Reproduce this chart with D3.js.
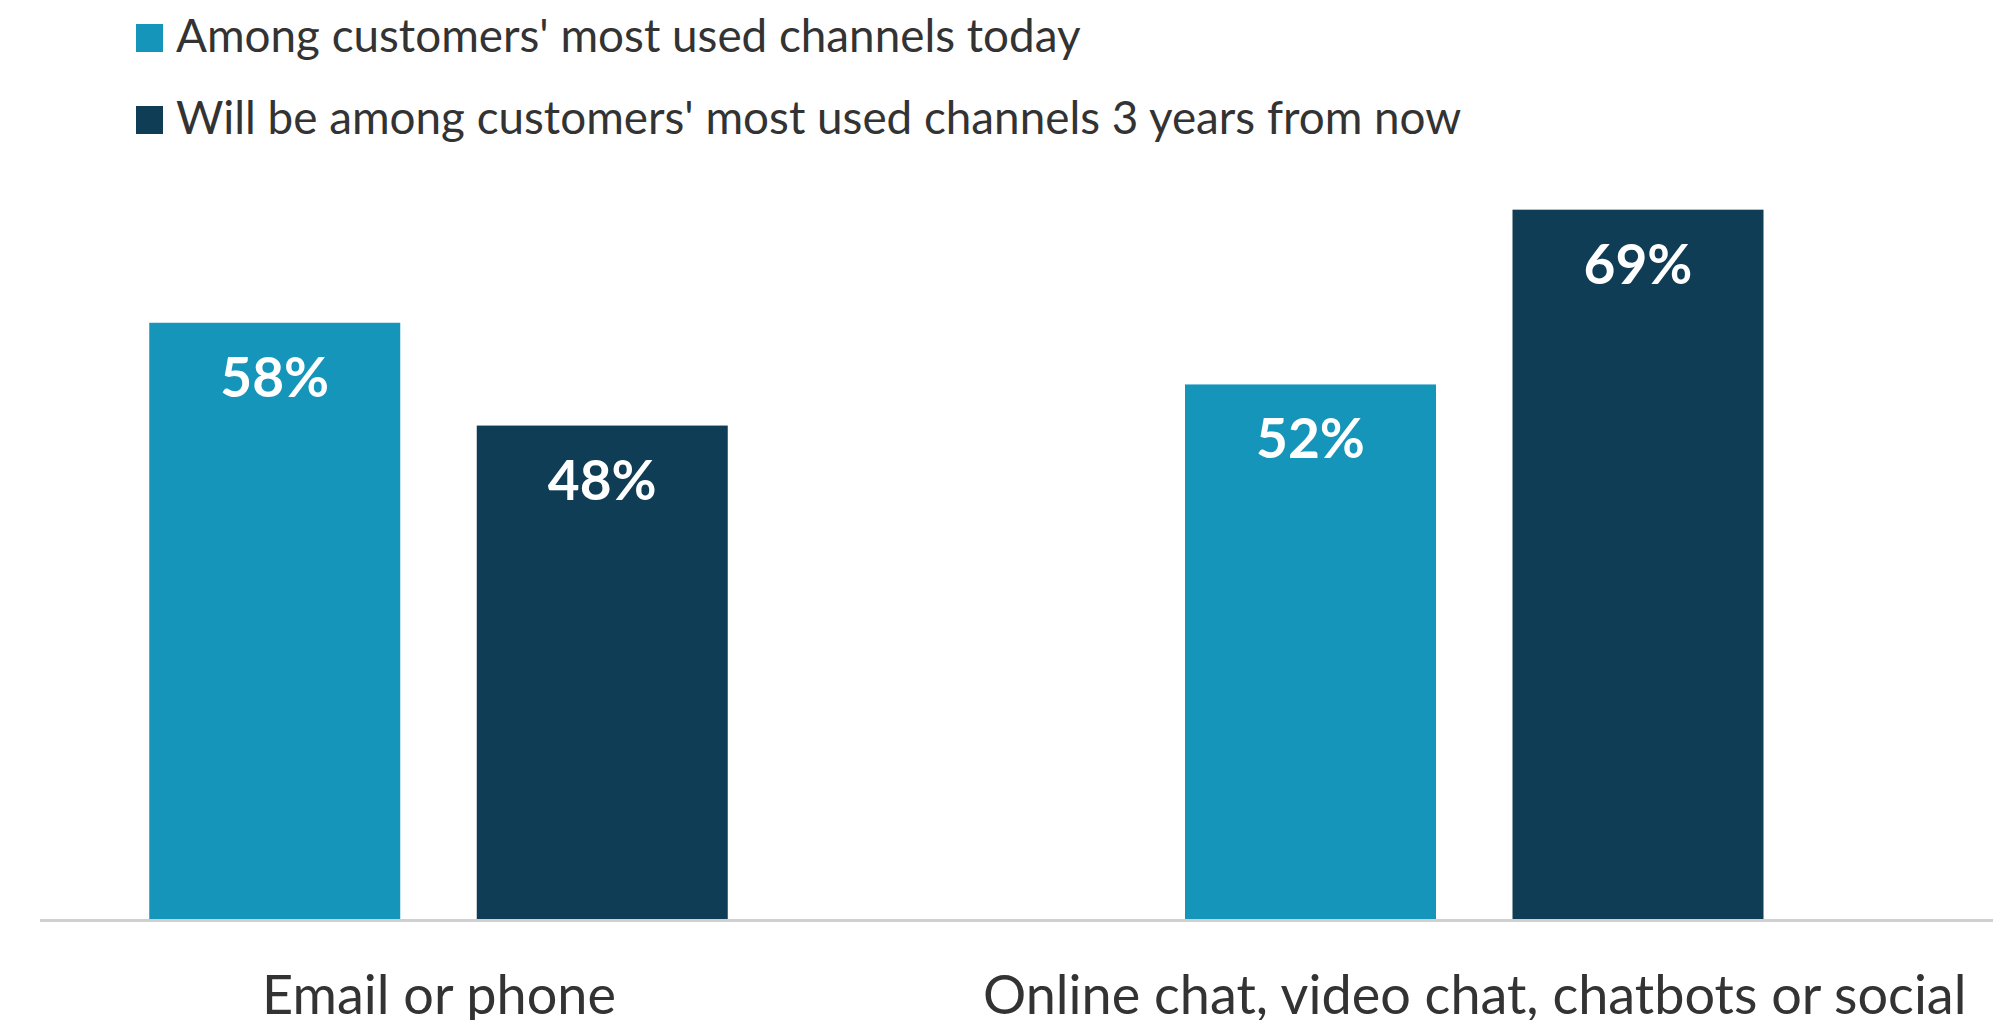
<!DOCTYPE html>
<html>
<head>
<meta charset="utf-8">
<script src="https://cdn.jsdelivr.net/npm/d3@7"></script>
<style>
  html, body { margin: 0; padding: 0; background: #ffffff; }
  svg { display: block; }
</style>
</head>
<body>
<svg id="chart" width="2003" height="1020"></svg>
<script>
// Channel groups along the x axis
const categories = ["Email or phone", "Online chat, video chat, chatbots or social"];
// Series names, shown in the legend
const seriesNames = [
  "Among customers' most used channels today",
  "Will be among customers' most used channels 3 years from now"
];
// Share of respondents (%) per series, in category order
const todayValues = [58, 52];
const futureValues = [48, 69];

const seriesColors = ["#1595ba", "#0e3d55"];
const FONT = "Lato, 'Source Sans Pro', 'Noto Sans', sans-serif";

const rows = categories.map((c, i) => ({
  category: c,
  values: [
    { series: seriesNames[0], value: todayValues[i] },
    { series: seriesNames[1], value: futureValues[i] }
  ]
}));

const svg = d3.select("#chart");

// Scales
const x0 = d3.scalePoint().domain(categories).range([438.5, 1474.25]);
const x1 = d3.scaleBand().domain(seriesNames).range([-289.25, 289.25]).paddingInner(0.2336);
const y = d3.scaleLinear().domain([0, 100]).range([919, -109]);
const color = d3.scaleOrdinal().domain(seriesNames).range(seriesColors);

// Legend
const legend = svg.append("g").attr("class", "legend");
const legendItems = legend.selectAll("g")
  .data(seriesNames)
  .join("g")
  .attr("transform", (d, i) => `translate(136, ${24 + i * 82})`);
legendItems.append("rect")
  .attr("width", 27)
  .attr("height", 28)
  .attr("fill", d => color(d));
legendItems.append("text")
  .attr("x", 40)
  .attr("y", 28)
  .attr("font-family", FONT)
  .attr("font-size", 45.8)
  .attr("fill", "#333333")
  .text(d => d);

// Bars
const groups = svg.append("g").selectAll("g")
  .data(rows)
  .join("g")
  .attr("transform", d => `translate(${x0(d.category)},0)`);

groups.selectAll("rect")
  .data(d => d.values)
  .join("rect")
  .attr("x", d => x1(d.series))
  .attr("y", d => y(d.value))
  .attr("width", x1.bandwidth())
  .attr("height", d => y(0) - y(d.value))
  .attr("fill", d => color(d.series));

// Value labels inside the bars
groups.selectAll("text.value")
  .data(d => d.values)
  .join("text")
  .attr("class", "value")
  .attr("x", d => x1(d.series) + x1.bandwidth() / 2)
  .attr("y", d => y(d.value) + 74)
  .attr("text-anchor", "middle")
  .attr("font-family", FONT)
  .attr("font-weight", "bold")
  .attr("font-size", 55)
  .attr("fill", "#ffffff")
  .text(d => d.value + "%");

// Baseline
svg.append("line")
  .attr("x1", 40)
  .attr("x2", 1993)
  .attr("y1", y(0) + 1.5)
  .attr("y2", y(0) + 1.5)
  .attr("stroke", "#d0d0d0")
  .attr("stroke-width", 3);

// Category labels
const xAxis = d3.axisBottom(x0).tickSize(0).tickPadding(0);
const axisG = svg.append("g")
  .attr("transform", `translate(0, ${y(0)})`)
  .call(xAxis);
axisG.select(".domain").remove();
axisG.selectAll("text")
  .attr("dy", null)
  .attr("y", 95)
  .attr("font-family", FONT)
  .attr("font-size", 54)
  .attr("fill", "#333333");
</script>
</body>
</html>
